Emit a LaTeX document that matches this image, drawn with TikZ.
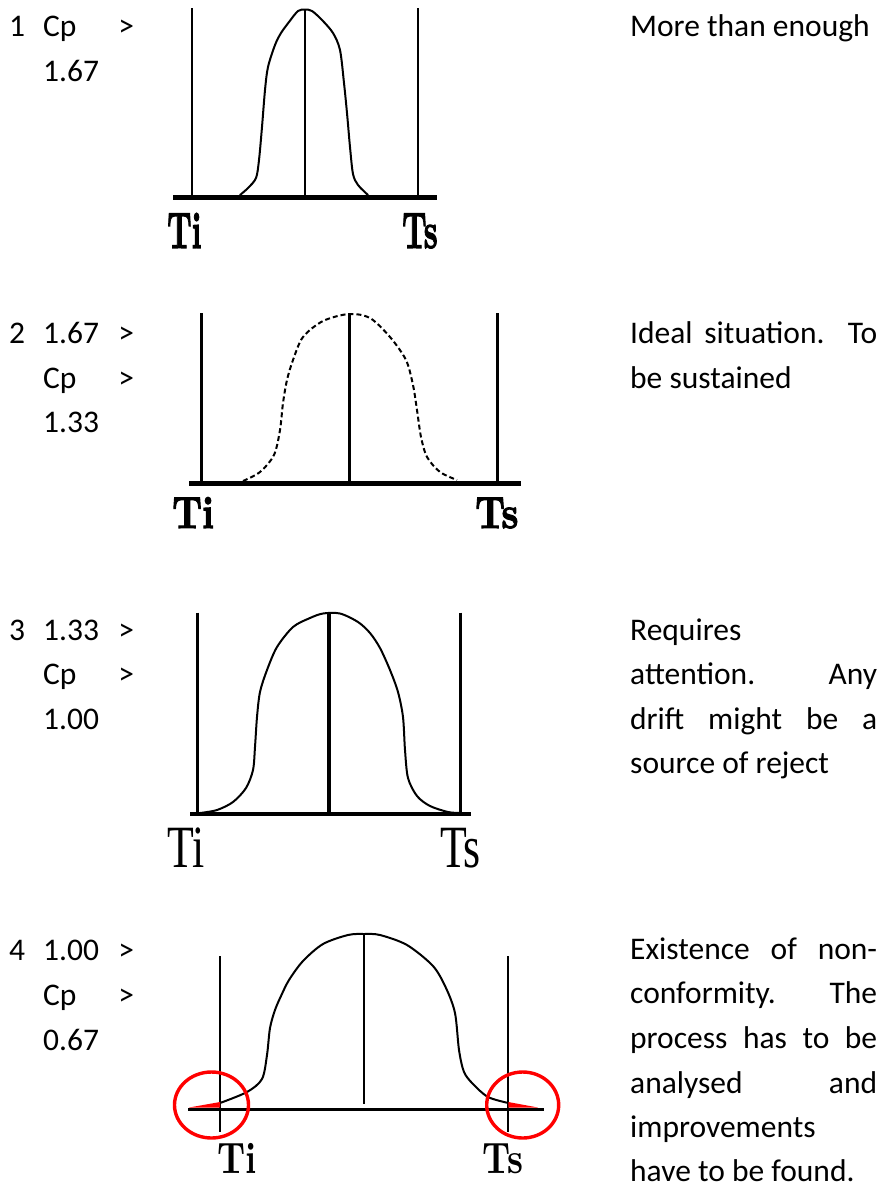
\documentclass[tikz,border=0pt]{standalone}
\usepackage{fontspec}
\usepackage{graphicx}
\setmainfont{Carlito}
\newfontfamily\lmbold{lmroman10-bold.otf}
\newfontfamily\lmheavy{lmroman10-bold.otf}[FakeBold=2.5]
\newfontfamily\tnrfont{Liberation Serif}
\begin{document}
\begin{tikzpicture}[x=1pt,y=-1pt,
  txt/.style={anchor=base west, inner sep=0pt, font=\fontsize{31.5}{38}\selectfont},
  lbl/.style={anchor=base west, inner sep=0pt},
  axisline/.style={line width=#1, line cap=butt},
  tolline/.style={line width=#1},
  curveline/.style={line width=2pt, line join=round, line cap=round},
  redmark/.style={draw=red, line width=3.4pt},
]
\useasboundingbox (0,0) rectangle (878,1187);

% ---------- left column ----------
\node[txt] (n1) at (9,36) {1};
\node[txt] (l1a) at (43,36) {\makebox[91pt][s]{Cp >}};
\node[txt] (l1b) at (43,81) {1.67};

\node[txt] (n2) at (9,343) {2};
\node[txt] (l2a) at (43,343) {\makebox[91pt][s]{1.67 >}};
\node[txt] (l2b) at (43,388) {\makebox[91pt][s]{Cp >}};
\node[txt] (l2c) at (43,432) {1.33};

\node[txt] (n3) at (9,640) {3};
\node[txt] (l3a) at (43,640) {\makebox[91pt][s]{1.33 >}};
\node[txt] (l3b) at (43,684) {\makebox[91pt][s]{Cp >}};
\node[txt] (l3c) at (43,729) {1.00};

\node[txt] (n4) at (9,960) {4};
\node[txt] (l4a) at (43,960) {\makebox[91pt][s]{1.00 >}};
\node[txt] (l4b) at (43,1005) {\makebox[91pt][s]{Cp >}};
\node[txt] (l4c) at (43,1050) {0.67};

% ---------- right column ----------
\node[txt] (r1a) at (630,36) {More than enough};

\node[txt] (r2a) at (630,343) {\makebox[247pt][s]{Ideal situation. To}};
\node[txt] (r2b) at (630,388) {be sustained};

\node[txt] (r3a) at (630,640) {Requires};
\node[txt] (r3b) at (630,684) {\makebox[247pt][s]{attention. Any}};
\node[txt] (r3c) at (630,729) {\makebox[247pt][s]{drift might be a}};
\node[txt] (r3d) at (630,773) {source of reject};

\node[txt] (r4a) at (630,959) {\makebox[247pt][s]{Existence of non-}};
\node[txt] (r4b) at (630,1003) {\makebox[247pt][s]{conformity. The}};
\node[txt] (r4c) at (630,1048) {\makebox[247pt][s]{process has to be}};
\node[txt] (r4d) at (630,1093) {\makebox[247pt][s]{analysed and}};
\node[txt] (r4e) at (630,1137) {improvements};
\node[txt] (r4f) at (630,1181) {have to be found.};

% ---------- panel 1 ----------
\draw[tolline=2pt] (191.7,8) -- (191.7,197);
\draw[tolline=2pt] (305,9) -- (305,197);
\draw[tolline=2pt] (418.3,8) -- (418.3,197);
\draw[curveline] plot[smooth, tension=0.5] coordinates {
 (240,195) (248,188) (256,178) (259,160) (262,127) (265,90) (268,67) (275,45)
 (281,33) (289,22) (298,11) (305,9.5) (312,11) (322,20) (333,33) (340,50)
 (344,83) (347,113) (350,147) (353,174) (358,185) (368,195)};
\draw[axisline=5pt] (173.3,197.3) -- (437.3,197.3);
\node[lbl] (ti1) at (167,248) {\lmheavy\fontsize{51}{51}\selectfont\scalebox{0.6}[1]{Ti}};
\node[lbl] (ts1) at (402,248) {\lmheavy\fontsize{51}{51}\selectfont\scalebox{0.6}[1]{Ts}};

% ---------- panel 2 ----------
\draw[tolline=2.5pt] (201.7,313) -- (201.7,483);
\draw[tolline=2.5pt] (349.3,313) -- (349.3,483);
\draw[tolline=2.5pt] (497.3,313) -- (497.3,483);
\draw[curveline, line cap=butt, dash pattern=on 5pt off 3pt] plot[smooth, tension=0.5] coordinates {
 (243,481) (260,472) (274,455) (280,430) (283,403) (287,380) (293,360) (303,337)
 (323,321) (349,314) (370,318) (390,337) (406,360) (413,385) (417,410) (421,437)
 (427,457) (440,472) (457,480)};
\draw[axisline=5pt] (189,483) -- (520.7,483);
\node[lbl] (ti2) at (172,528) {\lmheavy\fontsize{45}{45}\selectfont\scalebox{0.83}[1]{Ti}};
\node[lbl] (ts2) at (475,528) {\lmheavy\fontsize{45}{45}\selectfont\scalebox{0.83}[1]{Ts}};

% ---------- panel 3 ----------
\draw[tolline=2.5pt] (197.3,612.7) -- (197.3,814);
\draw[tolline=4pt] (329.3,612.7) -- (329.3,814);
\draw[tolline=2.5pt] (460.7,612.7) -- (460.7,814);
\draw[curveline] plot[smooth, tension=0.5] coordinates {
 (200,813) (217,810) (233,802) (246,788) (253,770) (255,747) (257,717) (260,692)
 (267,670) (277,647) (293,627) (310,618) (323,613.5) (340,613.5) (358,622) (370,633)
 (380,648) (390,670) (398,692) (403,717) (405,750) (408,778) (417,796) (430,806)
 (448,812) (460,813)};
\draw[axisline=4.5pt] (190,814) -- (470.7,814);
\node[lbl] (ti3) at (167,867) {\tnrfont\fontsize{60}{60}\selectfont\scalebox{0.73}[1]{Ti}};
\node[lbl] (ts3) at (440,867) {\tnrfont\fontsize{60}{60}\selectfont\scalebox{0.73}[1]{Ts}};

% ---------- panel 4 ----------
\draw[tolline=2pt] (220,956) -- (220,1132);
\draw[tolline=2pt] (364,934) -- (364,1104);
\draw[tolline=2pt] (508.3,956) -- (508.3,1132);
\draw[curveline] plot[smooth, tension=0.5] coordinates {
 (220,1103) (247,1092) (262,1079) (267,1055) (270,1028) (275,1010) (281,996)
 (289,980) (303,961) (323,944) (348,935) (364,934) (380,935) (407,945) (433,966)
 (446,988) (455,1013) (459,1050) (464,1072) (473,1084) (488,1097) (508.3,1103)};
\draw[axisline=3.5pt] (188,1109.3) -- (544,1109.3);
\fill[red] (189,1107.5) -- (220,1102) -- (220,1107.5) -- cycle;
\fill[red] (508.3,1102) -- (508.3,1107.5) -- (538,1107.5) -- cycle;
\draw[redmark] (211.5,1105) ellipse [x radius=37, y radius=33];
\draw[redmark] (522.7,1105) ellipse [x radius=36, y radius=33];
\node[lbl] (ti4) at (217,1173) {\lmbold\fontsize{44}{44}\selectfont\scalebox{0.8}[1]{Ti}};
\node[lbl] (ts4) at (482,1173) {\lmbold\fontsize{44}{44}\selectfont\scalebox{0.8}[1]{Ts}};
\end{tikzpicture}
\end{document}
